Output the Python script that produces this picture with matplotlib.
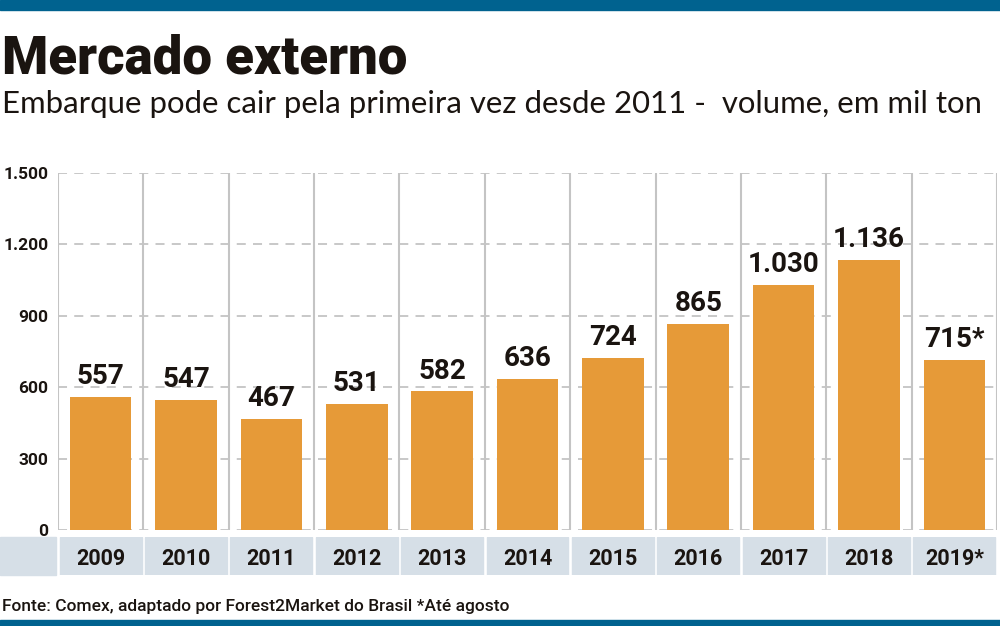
import matplotlib.pyplot as plt
from matplotlib.patches import Rectangle

# data
years = ['2009', '2010', '2011', '2012', '2013', '2014', '2015', '2016', '2017', '2018', '2019*']
volumes = [557, 547, 467, 531, 582, 636, 724, 865, 1030, 1136, 715]
value_labels = ['557', '547', '467', '531', '582', '636', '724', '865', '1.030', '1.136', '715*']
yticks = [0, 300, 600, 900, 1200, 1500]
ytick_labels = ['0', '300', '600', '900', '1.200', '1.500']

bar_color = '#E69A38'
band_color = '#D6DFE7'
blue = '#00628F'
grid_color = '#C4C4C4'
text_color = '#1A1410'

W, H = 1000, 626
fig = plt.figure(figsize=(10, 6.26), dpi=100)

def fx(px):
    return px / W

def fy(py):
    return 1 - py / H

# top and bottom blue rules
fig.patches.append(Rectangle((0, fy(10)), 1, fy(0) - fy(10), transform=fig.transFigure,
                             color=blue, zorder=0))
fig.patches.append(Rectangle((0, 0), 1, fy(620), transform=fig.transFigure,
                             color=blue, zorder=0))

fig.text(fx(2), fy(74), 'Mercado externo', fontsize=38, fontweight='black',
         family='Roboto', color=text_color, va='baseline', ha='left')
fig.text(fx(2), fy(113), 'Embarque pode cair pela primeira vez desde 2011 -  volume, em mil ton',
         fontsize=22.4, fontweight='normal', family='Lato', color=text_color,
         va='baseline', ha='left')

# main plot
ax_left, ax_right, ax_top, ax_bottom = 58, 997, 173, 530
ax = fig.add_axes([fx(ax_left), fy(ax_bottom), fx(ax_right - ax_left), fy(ax_top) - fy(ax_bottom)])
x = list(range(len(years)))
ax.bar(x, volumes, width=0.72, color=bar_color, zorder=3)
ax.set_xlim(-0.5, len(years) - 0.5)
ax.set_ylim(0, 1500)
for v in yticks:
    ax.axhline(v, color=grid_color, lw=1.3, dashes=(5, 4), zorder=1)
for i in range(len(years) + 1):
    ax.axvline(i - 0.5, color=grid_color, lw=1.5, zorder=2)
for i, (v, lab) in enumerate(zip(volumes, value_labels)):
    ax.annotate(lab, (i, v), xytext=(0, 5), textcoords='offset points', ha='center',
                va='bottom', fontsize=20, fontweight='bold', family='Roboto',
                color=text_color, zorder=4)
ax.set_xticks([])
ax.set_yticks(yticks)
ax.set_yticklabels(ytick_labels, fontsize=12.5, fontweight='bold', family='Roboto',
                   color=text_color)
ax.tick_params(axis='y', length=0, pad=7)
for s in ax.spines.values():
    s.set_visible(False)

# year band
band = fig.add_axes([fx(ax_left), fy(575), fx(ax_right - ax_left), fy(537) - fy(575)])
band.set_xlim(-0.5, len(years) - 0.5)
band.set_ylim(0, 1)
band.axis('off')
for i, yr in enumerate(years):
    band.add_patch(Rectangle((i - 0.5 + 0.02, 0), 0.96, 1, color=band_color))
    band.text(i, 0.42, yr, ha='center', va='center', fontsize=15.5, fontweight='bold',
              family='Roboto', color=text_color)
fig.patches.append(Rectangle((0, fy(575)), fx(56), fy(537) - fy(575),
                             transform=fig.transFigure, color=band_color, zorder=0))

fig.text(fx(2), fy(611), 'Fonte: Comex, adaptado por Forest2Market do Brasil *Até agosto',
         fontsize=12.5, fontweight='medium', family='Roboto', color=text_color,
         va='baseline', ha='left')

fig.savefig('out.png', dpi=100)
